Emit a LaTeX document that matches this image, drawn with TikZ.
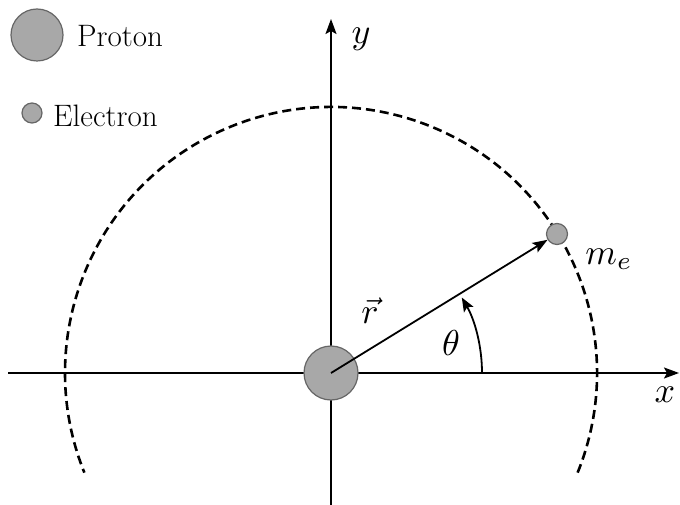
\documentclass[tikz,border=0pt]{standalone}
\usetikzlibrary{arrows.meta}
\definecolor{ballfill}{HTML}{A8A8A8}
\definecolor{balldraw}{HTML}{666666}
\tikzset{
  axisline/.style={line width=2pt, -{Stealth[length=15pt,width=11pt,inset=3pt]}},
  ball/.style={circle, fill=ballfill, draw=balldraw, line width=1.2pt, inner sep=0pt},
  orbit/.style={line width=2.6pt, dash pattern=on 9pt off 5pt},
  mathlbl/.style={scale=3.6, inner sep=0pt},
  legtext/.style={font=\fontsize{31}{36}\selectfont, inner sep=0pt, anchor=west},
}
\begin{document}
\begin{tikzpicture}[x=1pt,y=1pt]
\useasboundingbox (0,0) rectangle (680,504);
% axes
\coordinate (xl) at (8,131);
\coordinate (xr) at (679,131);
\coordinate (yb) at (331,-2);
\coordinate (yt) at (331,485);
\draw[axisline] (xl) -- (xr);
\draw[axisline] (yb) -- (yt);
% orbit
\coordinate (O) at (331,131);
\draw[orbit] ([shift={(-22:266pt)}]O) arc[start angle=-22, end angle=202, radius=266pt];
% proton and electron
\node[ball, minimum size=54pt] (p) at (O) {};
\node[ball, minimum size=21pt] (e) at (557,270) {};
% radius vector
\draw[line width=1.8pt, -{Stealth[length=15pt,width=11pt,inset=3pt]}] (p.center) -- (e);
% angle
\draw[line width=1.8pt, -{Stealth[length=14pt,width=11pt,inset=3pt]}] ([shift={(0:151pt)}]O) arc[start angle=0, end angle=30, radius=151pt];
% labels
\node[mathlbl] (ly) at (361,465) {$y$};
\node[mathlbl] (lx) at (665,109) {$x$};
\node[mathlbl] (lme) at (609,245) {$m_e$};
\node[mathlbl] (lr) at (370,193) {$\vec r$};
\node[mathlbl] (lth) at (451,161) {$\theta$};
% legend
\node[ball, minimum size=52pt] (lp) at (37,469) {};
\node[legtext] (tp) at (77,468) {Proton};
\node[ball, minimum size=20pt] (le) at (32,391) {};
\node[legtext] (te) at (53,388) {Electron};
\end{tikzpicture}
\end{document}
